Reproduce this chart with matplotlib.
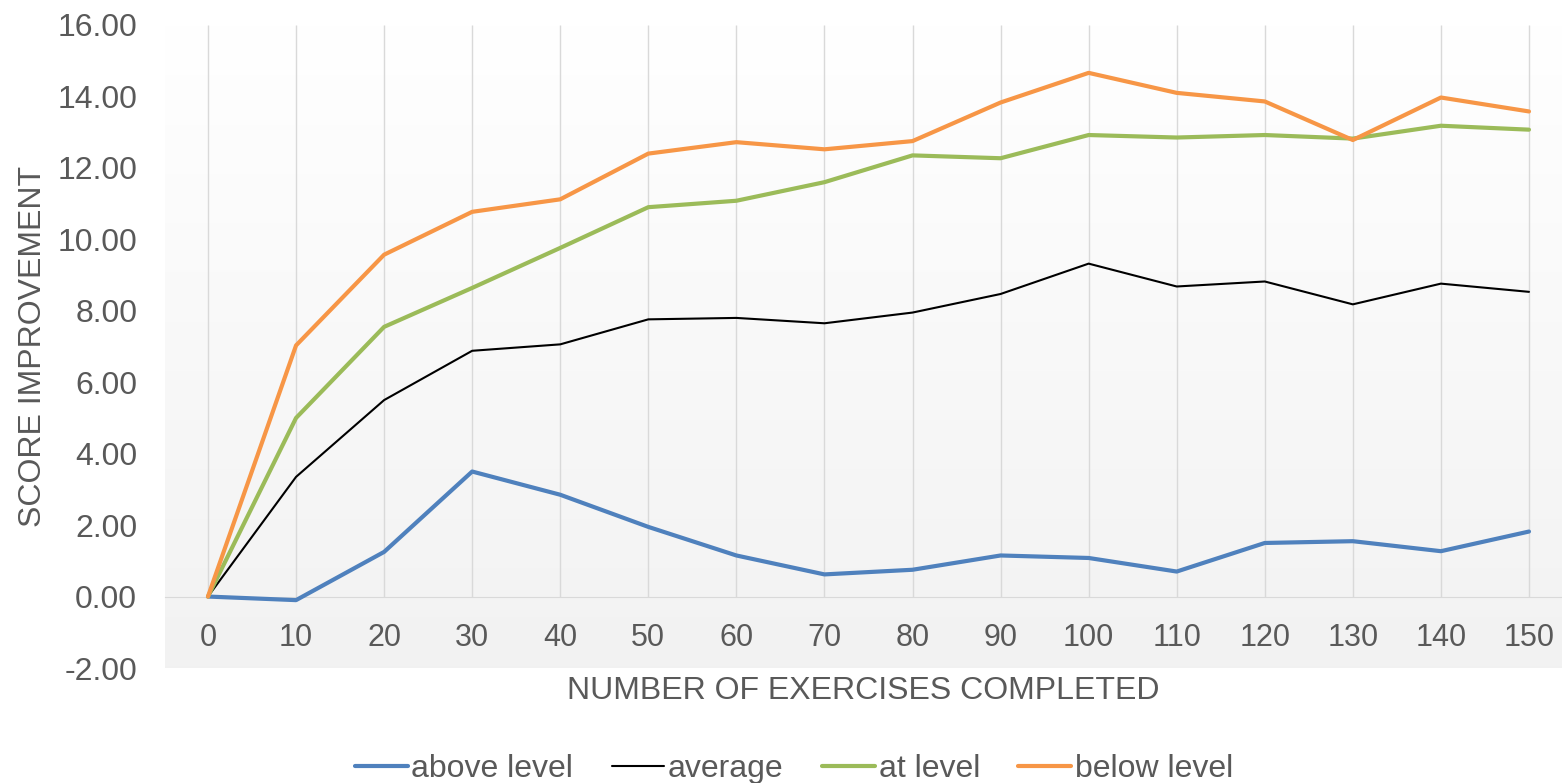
# Score improvement vs number of exercises completed
import numpy as np
import matplotlib
matplotlib.use('Agg')
from matplotlib import pyplot as plt

# Data
exercises = [0, 10, 20, 30, 40, 50, 60, 70, 80, 90, 100, 110, 120, 130, 140, 150]
above_level = [0.0, -0.1, 1.25, 3.5, 2.85, 1.95, 1.15, 0.62, 0.75, 1.15, 1.08, 0.7, 1.5, 1.55, 1.27, 1.82]
average = [0.0, 3.35, 5.5, 6.88, 7.06, 7.76, 7.8, 7.65, 7.95, 8.47, 9.32, 8.68, 8.82, 8.18, 8.76, 8.53]
at_level = [0.0, 5.0, 7.55, 8.64, 9.76, 10.9, 11.08, 11.6, 12.35, 12.27, 12.92, 12.85, 12.92, 12.82, 13.18, 13.07]
below_level = [0.0, 7.03, 9.57, 10.77, 11.12, 12.4, 12.72, 12.52, 12.75, 13.83, 14.66, 14.1, 13.86, 12.78, 13.97, 13.58]

TEXT_COLOR = '#595959'
plt.rcParams['font.family'] = ['Liberation Sans', 'DejaVu Sans']

fig = plt.figure(figsize=(15.62, 7.83), dpi=100)
ax = fig.add_axes([165 / 1562, 1 - 668 / 783, 1 - 165 / 1562, (668 - 25) / 783])

# Plot-area gradient (white at top, light gray at bottom)
grad = np.linspace(1.0, 0.949, 256).reshape(-1, 1)
ax.imshow(np.dstack([grad, grad, grad]), extent=[0, 1, 0, 1], transform=ax.transAxes,
          aspect='auto', zorder=0, interpolation='bilinear')

# Vertical gridlines at each category
ax.vlines(exercises, 0, 16, color='#d9d9d9', linewidth=1.0, zorder=1)

series = [
    (above_level, 'above level', '#4f81bd', 3.0),
    (average, 'average', '#000000', 1.5),
    (at_level, 'at level', '#9bbb59', 3.0),
    (below_level, 'below level', '#f79646', 3.0),
]
for values, name, color, lw in series:
    ax.plot(exercises, values, color=color, linewidth=lw, label=name,
            solid_joinstyle='round', solid_capstyle='round', zorder=3)

ax.set_xlim(-4.88, 153.75)
ax.set_ylim(-2, 16)
ax.set_xticks(exercises)
ax.set_yticks(np.arange(-2, 17, 2))
ax.yaxis.set_major_formatter(matplotlib.ticker.FormatStrFormatter('%.2f'))

for side in ['top', 'right', 'left']:
    ax.spines[side].set_visible(False)
ax.spines['bottom'].set_position(('data', 0))
ax.spines['bottom'].set_color('#d9d9d9')
ax.spines['bottom'].set_zorder(2)

ax.tick_params(axis='x', length=0, pad=19, labelsize=22, labelcolor=TEXT_COLOR)
ax.tick_params(axis='y', length=0, pad=20, labelsize=23, labelcolor=TEXT_COLOR)

ax.set_xlabel('NUMBER OF EXERCISES COMPLETED', fontsize=23, color=TEXT_COLOR)
ax.xaxis.set_label_coords(0.5, -0.012)
ax.set_ylabel('SCORE IMPROVEMENT', fontsize=23, color=TEXT_COLOR)
ax.yaxis.set_label_coords(-0.084, 0.5)

fig.legend(loc='center', bbox_to_anchor=(0.5083, 1 - 769 / 783), ncol=4, frameon=False,
           fontsize=23, labelcolor=TEXT_COLOR, handlelength=1.65, handletextpad=0.12,
           columnspacing=1.2)

fig.savefig('out.png', dpi=100)
